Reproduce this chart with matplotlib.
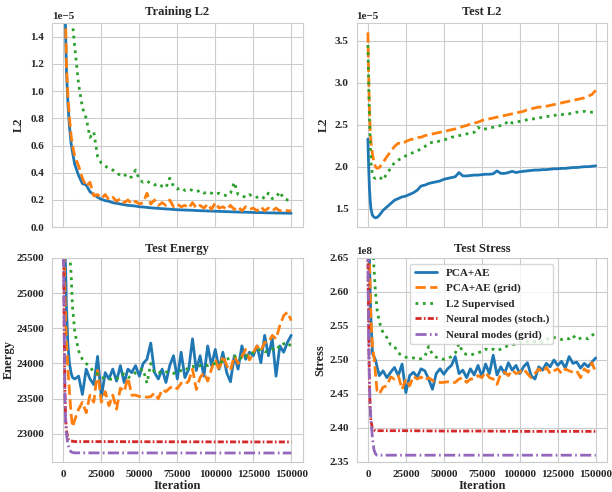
import matplotlib
matplotlib.use("Agg")
import matplotlib.pyplot as plt
import seaborn as sns
import numpy as np

sns.set_style("whitegrid")
plt.rcParams['font.family'] = ['Liberation Serif', 'DejaVu Serif']
plt.rcParams['font.weight'] = 'bold'
plt.rcParams['axes.titleweight'] = 'bold'
plt.rcParams['axes.labelweight'] = 'bold'

# ---------------- iteration grid ----------------
it_early = [0, 500, 1000, 1500, 2000, 3000, 4000, 5000, 6000, 7500]
iters = it_early + list(range(10000, 150001, 2500))

# ---------------- Training L2 (x1e-5) ----------------
train_pca = ([3.0, 2.2, 1.7, 1.4, 1.15, 0.9, 0.74, 0.62, 0.55, 0.46]
             + [0.38, 0.32, 0.31, 0.26, 0.24, 0.22, 0.205, 0.195, 0.19, 0.18]
             + [0.175, 0.17, 0.165, 0.16, 0.158, 0.155, 0.15, 0.148, 0.145, 0.142]
             + [0.14, 0.138, 0.136, 0.134, 0.132, 0.13, 0.128, 0.127, 0.126, 0.125]
             + [0.124, 0.122, 0.121, 0.12, 0.119, 0.118, 0.117, 0.116, 0.115, 0.114]
             + [0.113, 0.112, 0.111, 0.11, 0.11, 0.109, 0.108, 0.107, 0.107, 0.106]
             + [0.105, 0.105, 0.104, 0.104, 0.103, 0.103, 0.102])
train_grid = ([3.0, 2.3, 1.8, 1.48, 1.2, 0.95, 0.8, 0.68, 0.6, 0.52]
              + [0.45, 0.36, 0.30, 0.33, 0.23, 0.24, 0.21, 0.24, 0.20, 0.22]
              + [0.19, 0.21, 0.18, 0.20, 0.17, 0.19, 0.17, 0.18, 0.25, 0.17]
              + [0.20, 0.16, 0.18, 0.16, 0.20, 0.15, 0.17, 0.15, 0.16, 0.14]
              + [0.18, 0.14, 0.16, 0.14, 0.17, 0.13, 0.18, 0.14, 0.15, 0.13]
              + [0.16, 0.13, 0.15, 0.12, 0.15, 0.13, 0.14, 0.12, 0.15, 0.12]
              + [0.14, 0.12, 0.14, 0.12, 0.13, 0.12, 0.12])
train_sup = ([3.5, 3.2, 3.0, 2.8, 2.6, 2.2, 1.9, 1.7, 1.5, 1.32]
             + [1.05, 0.88, 0.80, 0.66, 0.70, 0.52, 0.47, 0.45, 0.43, 0.42]
             + [0.40, 0.38, 0.39, 0.36, 0.37, 0.42, 0.35, 0.33, 0.34, 0.32]
             + [0.31, 0.32, 0.30, 0.29, 0.36, 0.30, 0.28, 0.29, 0.27, 0.28]
             + [0.27, 0.26, 0.27, 0.25, 0.26, 0.25, 0.24, 0.25, 0.24, 0.23]
             + [0.25, 0.33, 0.24, 0.23, 0.22, 0.24, 0.22, 0.22, 0.23, 0.21]
             + [0.25, 0.21, 0.22, 0.26, 0.21, 0.20, 0.195])

# ---------------- Test L2 (x1e-5) ----------------
test_pca = ([2.33, 2.0, 1.75, 1.6, 1.5, 1.42, 1.40, 1.39, 1.395, 1.42]
            + [1.48, 1.52, 1.56, 1.60, 1.62, 1.64, 1.65, 1.67, 1.69, 1.72]
            + [1.77, 1.78, 1.80, 1.81, 1.82, 1.83, 1.85, 1.86, 1.87, 1.88]
            + [1.93, 1.89, 1.89, 1.895, 1.90, 1.90, 1.905, 1.91, 1.91, 1.915]
            + [1.95, 1.92, 1.92, 1.93, 1.945, 1.93, 1.94, 1.945, 1.95, 1.955]
            + [1.96, 1.96, 1.965, 1.965, 1.97, 1.975, 1.975, 1.98, 1.98, 1.985]
            + [1.99, 1.99, 1.995, 2.0, 2.0, 2.005, 2.01])
test_grid = ([3.60, 3.1, 2.7, 2.45, 2.3, 2.15, 2.05, 2.0, 1.98, 1.99]
             + [2.05, 2.12, 2.18, 2.24, 2.28, 2.27, 2.30, 2.32, 2.33, 2.35]
             + [2.35, 2.37, 2.38, 2.39, 2.40, 2.41, 2.42, 2.43, 2.44, 2.45]
             + [2.46, 2.48, 2.49, 2.51, 2.52, 2.53, 2.55, 2.56, 2.57, 2.58]
             + [2.59, 2.60, 2.61, 2.62, 2.63, 2.64, 2.65, 2.66, 2.68, 2.69]
             + [2.70, 2.71, 2.71, 2.72, 2.73, 2.74, 2.75, 2.76, 2.77, 2.78]
             + [2.79, 2.80, 2.81, 2.82, 2.84, 2.86, 2.91])
test_sup = ([3.45, 3.0, 2.6, 2.3, 2.05, 1.9, 1.87, 1.86, 1.87, 1.88]
            + [1.84, 1.92, 1.98, 2.05, 2.08, 2.10, 2.13, 2.15, 2.17, 2.19]
            + [2.21, 2.24, 2.28, 2.29, 2.29, 2.31, 2.32, 2.33, 2.35, 2.36]
            + [2.37, 2.38, 2.39, 2.40, 2.41, 2.47, 2.44, 2.45, 2.46, 2.47]
            + [2.48, 2.49, 2.50, 2.55, 2.52, 2.53, 2.54, 2.55, 2.56, 2.57]
            + [2.57, 2.58, 2.59, 2.60, 2.60, 2.61, 2.62, 2.62, 2.63, 2.63]
            + [2.64, 2.65, 2.65, 2.66, 2.65, 2.65, 2.65])

# ---------------- Test Energy ----------------
energy_pca = ([26500, 26000, 25600, 25300, 24800, 24250, 24000, 23870, 23800, 23780]
              + [23820, 23560, 23920, 23780, 23700, 24100, 23520, 23870, 23780, 23920]
              + [23750, 23970, 23730, 23920, 23870, 23970, 23820, 24000, 24060, 24290]
              + [23870, 23780, 23920, 23730, 23970, 24110, 23780, 24160, 23800, 23920]
              + [24350, 23900, 24110, 23820, 24250, 23970, 24200, 23920, 24160, 23870]
              + [23740, 24110, 23920, 24250, 24060, 24160, 24110, 24250, 24010, 24400]
              + [24110, 24350, 23820, 24250, 24160, 24300, 24400])
energy_grid = ([26000, 25500, 25000, 24600, 24300, 23900, 23600, 23300, 23100, 23200]
               + [23350, 23450, 23300, 23550, 23450, 23900, 23450, 23600, 23400, 23550]
               + [23350, 23650, 23600, 23800, 23550, 23550, 23530, 23540, 23520, 23530]
               + [23580, 23500, 23630, 23600, 23650, 23680, 23640, 23720, 23700, 23750]
               + [23920, 23630, 23800, 23870, 23750, 23920, 24060, 23900, 24110, 23970]
               + [23900, 24110, 24000, 24100, 24200, 24050, 24150, 24250, 24180, 24300]
               + [24300, 24400, 24350, 24540, 24680, 24730, 24610])
energy_sup = ([27000, 26800, 26600, 26400, 26200, 25900, 25600, 25300, 24800, 24450]
              + [24180, 24060, 24000, 23950, 23880, 23850, 23800, 23790, 23780, 23770]
              + [23780, 23840, 23850, 23800, 23820, 23870, 23900, 23920, 23720, 24000]
              + [23870, 23880, 23860, 23880, 23870, 23860, 23880, 23900, 23890, 23950]
              + [23960, 23940, 23970, 23980, 23970, 23990, 24000, 24010, 24030, 24060]
              + [24080, 24100, 24120, 24060, 24100, 24150, 24150, 24180, 24200, 24170]
              + [24170, 24200, 24250, 24220, 24280, 24300, 24240])

iters_nm = [0, 500, 1000, 1500, 2000, 3000, 4000, 5000, 6000, 7500,
            10000, 25000, 50000, 75000, 100000, 125000, 150000]
energy_nm_stoch = [26000, 24500, 23600, 23200, 23050, 22930, 22910, 22900, 22895, 22890,
                   22890, 22890, 22888, 22887, 22886, 22885, 22885]
energy_nm_grid = [25800, 24600, 23500, 23150, 23000, 22850, 22780, 22745, 22735, 22730,
                  22730, 22729, 22729, 22728, 22728, 22728, 22728]

# ---------------- Test Stress (x1e8) ----------------
stress_pca = ([2.75, 2.70, 2.65, 2.60, 2.56, 2.51, 2.505, 2.50, 2.49, 2.477]
              + [2.484, 2.474, 2.482, 2.489, 2.477, 2.494, 2.452, 2.477, 2.482, 2.475]
              + [2.487, 2.484, 2.472, 2.457, 2.480, 2.487, 2.479, 2.487, 2.492, 2.505]
              + [2.480, 2.485, 2.474, 2.487, 2.478, 2.492, 2.476, 2.494, 2.480, 2.507]
              + [2.478, 2.490, 2.480, 2.496, 2.485, 2.492, 2.480, 2.490, 2.496, 2.477]
              + [2.472, 2.490, 2.485, 2.495, 2.490, 2.500, 2.492, 2.498, 2.488, 2.505]
              + [2.495, 2.497, 2.488, 2.495, 2.490, 2.497, 2.503])
stress_grid = ([2.75, 2.70, 2.65, 2.60, 2.56, 2.52, 2.505, 2.48, 2.455, 2.45]
               + [2.460, 2.462, 2.475, 2.472, 2.477, 2.457, 2.472, 2.462, 2.476, 2.472]
               + [2.475, 2.470, 2.474, 2.470, 2.467, 2.467, 2.467, 2.468, 2.466, 2.467]
               + [2.472, 2.474, 2.467, 2.472, 2.472, 2.477, 2.474, 2.482, 2.474, 2.472]
               + [2.464, 2.480, 2.482, 2.477, 2.485, 2.480, 2.482, 2.487, 2.480, 2.474]
               + [2.480, 2.487, 2.482, 2.489, 2.480, 2.484, 2.487, 2.480, 2.487, 2.484]
               + [2.482, 2.484, 2.474, 2.487, 2.482, 2.496, 2.482])
stress_sup = ([2.90, 2.86, 2.82, 2.78, 2.74, 2.68, 2.635, 2.60, 2.575, 2.556]
              + [2.540, 2.533, 2.522, 2.520, 2.510, 2.507, 2.504, 2.504, 2.503, 2.501]
              + [2.502, 2.505, 2.520, 2.508, 2.504, 2.503, 2.501, 2.502, 2.505, 2.510]
              + [2.524, 2.511, 2.508, 2.507, 2.509, 2.511, 2.512, 2.516, 2.514, 2.516]
              + [2.514, 2.516, 2.519, 2.521, 2.522, 2.524, 2.526, 2.524, 2.527, 2.526]
              + [2.527, 2.528, 2.526, 2.531, 2.530, 2.533, 2.532, 2.530, 2.532, 2.531]
              + [2.536, 2.530, 2.532, 2.533, 2.531, 2.536, 2.540])
stress_nm_stoch = [2.66, 2.55, 2.47, 2.43, 2.41, 2.40, 2.397, 2.396, 2.396, 2.396,
                   2.396, 2.396, 2.3955, 2.3955, 2.395, 2.395, 2.395]
stress_nm_grid = [2.66, 2.52, 2.47, 2.43, 2.413, 2.385, 2.368, 2.362, 2.360, 2.360,
                  2.360, 2.360, 2.360, 2.360, 2.360, 2.360, 2.360]

labels = ["PCA+AE", "PCA+AE (grid)", "L2 Supervised",
          "Neural modes (stoch.)", "Neural modes (grid)"]
colors = ["#1f77b4", "#ff7f0e", "#2ca02c", "#d62728", "#9467bd"]
LW = 2.0

fig, axes = plt.subplots(2, 2, sharex=True, figsize=(6.12, 4.92), dpi=100)
fig.subplots_adjust(left=0.085, right=0.992, top=0.953, bottom=0.061,
                    wspace=0.215, hspace=0.151)

def draw_main(ax, a, b, c, scale):
    ax.plot(iters, np.array(a) * scale, color=colors[0], lw=LW, ls='-', label=labels[0])
    ax.plot(iters, np.array(b) * scale, color=colors[1], lw=LW, ls='--', label=labels[1])
    ax.plot(iters, np.array(c) * scale, color=colors[2], lw=LW, ls=':', label=labels[2])

def draw_nm(ax, a, b, scale):
    ax.plot(iters_nm, np.array(a) * scale, color=colors[3], lw=LW,
            dashes=[2.2, 0.8, 0.6, 0.8], label=labels[3])
    ax.plot(iters_nm, np.array(b) * scale, color=colors[4], lw=LW,
            dashes=[4.0, 1.2, 0.6, 1.2], label=labels[4])

ax = axes[0, 0]
draw_main(ax, train_pca, train_grid, train_sup, 1e-5)
ax.set_ylim(0, 1.5e-5)
ax.set_yticks(np.arange(0, 1.41e-5, 0.2e-5))
ax.set_title("Training L2")
ax.set_ylabel("L2")

ax = axes[0, 1]
draw_main(ax, test_pca, test_grid, test_sup, 1e-5)
ax.set_yticks([1.5e-5, 2.0e-5, 2.5e-5, 3.0e-5, 3.5e-5])
ax.set_title("Test L2")
ax.set_ylabel("L2")

ax = axes[1, 0]
draw_main(ax, energy_pca, energy_grid, energy_sup, 1.0)
draw_nm(ax, energy_nm_stoch, energy_nm_grid, 1.0)
ax.set_ylim(22600, 25500)
ax.set_yticks(np.arange(23000, 25501, 500))
ax.set_title("Test Energy", pad=4)
ax.set_ylabel("Energy", labelpad=1)
ax.set_xlabel("Iteration", labelpad=1)

ax = axes[1, 1]
draw_main(ax, stress_pca, stress_grid, stress_sup, 1e8)
draw_nm(ax, stress_nm_stoch, stress_nm_grid, 1e8)
ax.set_ylim(2.35e8, 2.65e8)
ax.set_yticks(np.arange(2.35e8, 2.651e8, 0.05e8))
ax.set_title("Test Stress", pad=4)
ax.set_ylabel("Stress", labelpad=2)
ax.set_xlabel("Iteration", labelpad=1)
ax.legend(loc='upper center', fontsize=8, frameon=True)

for ax in axes.flat:
    ax.set_xlim(-7500, 157500)
    ax.set_xticks(np.arange(0, 150001, 25000))
    ax.tick_params(labelsize=8, pad=2)
    ax.title.set_fontsize(9)
    ax.xaxis.label.set_fontsize(9)
    ax.yaxis.label.set_fontsize(9)
    ax.yaxis.get_offset_text().set_fontsize(8)

fig.savefig("out.png", dpi=100)
